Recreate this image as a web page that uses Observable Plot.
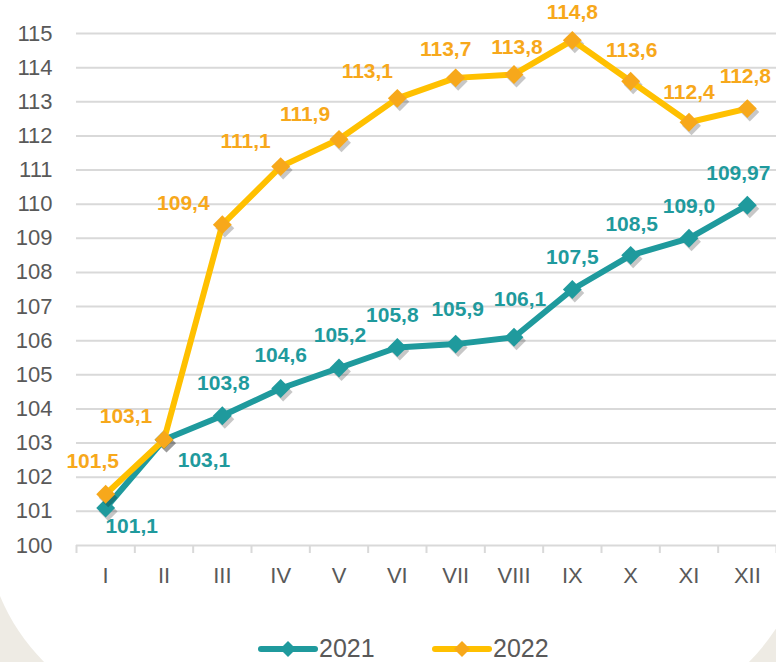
<!DOCTYPE html>
<html>
<head>
<meta charset="utf-8">
<script src="https://cdn.jsdelivr.net/npm/d3@7"></script>
<script src="https://cdn.jsdelivr.net/npm/@observablehq/plot@0.6"></script>
<style>
  html, body { margin: 0; padding: 0; }
  body { width: 776px; height: 662px; overflow: hidden; position: relative; background: #eeebe4; font-family: "Liberation Sans", Arial, sans-serif; }
  #panel { position: absolute; left: -15px; top: -60px; width: 823px; height: 780px; background: #ffffff; border-radius: 0 0 200px 200px; }
  #chart { position: absolute; left: 0; top: 0; }
  .leg { position: absolute; top: 634px; display: flex; align-items: center; font-size: 25px; color: #595959; }
  .leg svg { display: block; }
</style>
</head>
<body>
<div id="panel"></div>
<div id="chart"></div>
<div class="leg" id="leg2021" style="left:257px"></div>
<div class="leg" id="leg2022" style="left:431px"></div>
<script>
// ---- data ----
const monthLabels = ["I","II","III","IV","V","VI","VII","VIII","IX","X","XI","XII"];
const monthIndex = [1,2,3,4,5,6,7,8,9,10,11,12];
const values2021 = [101.1, 103.1, 103.8, 104.6, 105.2, 105.8, 105.9, 106.1, 107.5, 108.5, 109.0, 109.97];
const values2022 = [101.5, 103.1, 109.4, 111.1, 111.9, 113.1, 113.7, 113.8, 114.8, 113.6, 112.4, 112.8];
const yTicks = [100,101,102,103,104,105,106,107,108,109,110,111,112,113,114,115];
const seriesNames = ["2021", "2022"];

// ---- layout (label nudges, pixels) ----
const nudge2021 = [[26,18],[40,21],[1,-33],[0,-33],[1,-33],[-5,-32],[2,-35],[6,-38],[0,-32],[1,-31],[0,-32],[-9,-32]];
const nudge2022 = [[-13,-33],[-38,-23],[-39,-21],[-35,-25],[-34,-25],[-30,-27],[-10,-29],[3,-27],[0,-28],[1,-31],[0,-30],[-2,-32]];

const teal = "#1f9a9d";
const yellow = "#ffc000";
const orange = "#f7a81b";
const shadow = "rgba(0,0,0,0.22)";

const fmt = v => {
  const one = Math.abs(v * 10 - Math.round(v * 10)) < 1e-9;
  return (one ? v.toFixed(1) : v.toFixed(2)).replace(".", ",");
};

const rows2021 = monthIndex.map((m, i) => ({m, v: values2021[i]}));
const rows2022 = monthIndex.map((m, i) => ({m, v: values2022[i]}));
const boundaries = d3.range(0, 13).map(k => k + 0.5);

const labelMarks = [];
rows2021.forEach((r, i) => labelMarks.push(Plot.text([r], {x: "m", y: "v", text: d => fmt(d.v), dx: nudge2021[i][0], dy: nudge2021[i][1], fill: teal, fontSize: 21, fontWeight: "bold"})));
rows2022.forEach((r, i) => labelMarks.push(Plot.text([r], {x: "m", y: "v", text: d => fmt(d.v), dx: nudge2022[i][0], dy: nudge2022[i][1], fill: orange, fontSize: 21, fontWeight: "bold"})));

function series(rows, lineColor, dotColor) {
  return [
    Plot.line(rows, {x: "m", y: "v", stroke: shadow, strokeWidth: 6.5, dx: 2.5, dy: 3.5, ariaLabel: "blur"}),
    Plot.dot(rows, {x: "m", y: "v", symbol: "diamond2", r: 8.5, fill: shadow, dx: 2.5, dy: 3.5, ariaLabel: "blur"}),
    Plot.line(rows, {x: "m", y: "v", stroke: lineColor, strokeWidth: 6}),
    Plot.dot(rows, {x: "m", y: "v", symbol: "diamond2", r: 8.5, fill: dotColor})
  ];
}

const chart = Plot.plot({
  width: 776,
  height: 600,
  marginLeft: 76,
  marginRight: 0,
  marginTop: 33,
  marginBottom: 55,
  style: {fontFamily: "'Liberation Sans', Arial, sans-serif", background: "transparent", overflow: "visible"},
  x: {domain: [0.5, 12.5]},
  y: {domain: [100, 115]},
  marks: [
    Plot.gridY(yTicks, {stroke: "#d9d9d9", strokeOpacity: 1, strokeWidth: 2}),
    Plot.axisY(yTicks, {tickSize: 0, tickPadding: 24, fontSize: 22, fill: "#595959", label: null, tickFormat: d => String(d)}),
    Plot.axisX(boundaries, {tickSize: 8, stroke: "#d9d9d9", strokeWidth: 2, strokeOpacity: 1, tickFormat: () => "", label: null}),
    Plot.axisX(monthIndex, {tickSize: 0, tickPadding: 22, fontSize: 22, fill: "#595959", label: null, tickFormat: d => monthLabels[d - 1]}),
    ...series(rows2021, teal, teal),
    ...series(rows2022, yellow, orange),
    ...labelMarks
  ]
});
d3.select(chart).selectAll("g[aria-label=blur]").style("filter", "blur(1.5px)");
document.getElementById("chart").appendChild(chart);

// ---- legend ----
function swatch(lineColor, markColor) {
  return `<svg width="62" height="20" viewBox="0 0 62 20"><line x1="4" y1="10" x2="58" y2="10" stroke="${lineColor}" stroke-width="6" stroke-linecap="round"/><path d="M31 2 L39 10 L31 18 L23 10 Z" fill="${markColor}"/></svg>`;
}
document.getElementById("leg2021").innerHTML = swatch(teal, teal) + `<span>${seriesNames[0]}</span>`;
document.getElementById("leg2022").innerHTML = swatch(yellow, orange) + `<span>${seriesNames[1]}</span>`;
</script>
</body>
</html>
